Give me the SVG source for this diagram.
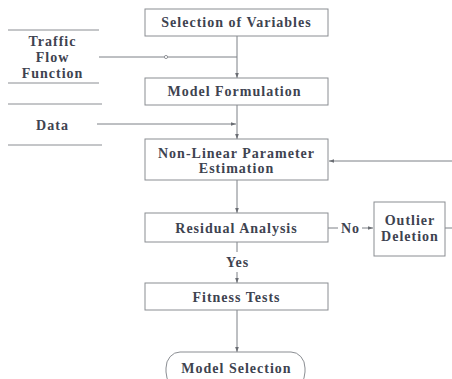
<svg xmlns="http://www.w3.org/2000/svg" width="452" height="379" viewBox="0 0 452 379">
<style>
  .box { fill: #ffffff; stroke: #8a8d92; stroke-width: 1; }
  .ln { fill: none; stroke: #7d8086; stroke-width: 1; }
  .sep { fill: none; stroke: #8a8d92; stroke-width: 1; }
  text { font-family: "Liberation Serif", "DejaVu Serif", serif; font-weight: bold; font-size: 14px; fill: #3e4350; text-anchor: middle; dominant-baseline: central; letter-spacing: 1px; }
</style>
<defs>
  <marker id="arr" viewBox="0 0 6 6" refX="6" refY="3" markerWidth="5" markerHeight="5" orient="auto" markerUnits="userSpaceOnUse">
    <path d="M0,0.8 L6,3 L0,5.2 Z" fill="#6a6d73"/>
  </marker>
</defs>
<rect width="452" height="379" fill="#ffffff"/>

<g id="connectors">
  <line class="ln" x1="237" y1="36" x2="237" y2="78" marker-end="url(#arr)"/>
  <line class="ln" x1="99" y1="57" x2="237" y2="57"/>
  <circle cx="166" cy="57" r="1.6" fill="#ffffff" stroke="#7d8086" stroke-width="0.8"/>
  <line class="ln" x1="237" y1="105" x2="237" y2="139" marker-end="url(#arr)"/>
  <line class="ln" x1="97" y1="124" x2="236" y2="124" marker-end="url(#arr)"/>
  <line class="ln" x1="452" y1="161" x2="329" y2="161" marker-end="url(#arr)"/>
  <line class="ln" x1="237" y1="180" x2="237" y2="213" marker-end="url(#arr)"/>
  <line class="ln" x1="328" y1="228" x2="338" y2="228"/>
  <line class="ln" x1="362" y1="228" x2="373" y2="228" marker-end="url(#arr)"/>
  <line class="ln" x1="445" y1="228" x2="452" y2="228"/>
  <line class="ln" x1="237" y1="242" x2="237" y2="252"/>
  <line class="ln" x1="237" y1="272" x2="237" y2="283" marker-end="url(#arr)"/>
  <line class="ln" x1="237" y1="310" x2="237" y2="352" marker-end="url(#arr)"/>
  <text x="350.5" y="228">No</text>
  <text x="237.5" y="262">Yes</text>
</g>

<g id="traffic-flow-function">
  <line class="sep" x1="8" y1="30" x2="99" y2="30"/>
  <line class="sep" x1="8" y1="83" x2="99" y2="83"/>
  <text x="52.5" y="41">Traffic</text>
  <text x="52.5" y="57">Flow</text>
  <text x="52.5" y="73">Function</text>
</g>

<g id="data">
  <line class="sep" x1="8" y1="104" x2="102" y2="104"/>
  <line class="sep" x1="8" y1="145" x2="102" y2="145"/>
  <text x="52.5" y="125">Data</text>
</g>

<g id="selection-of-variables">
  <rect class="box" x="145" y="9" width="183" height="27"/>
  <text x="236.5" y="22.5">Selection of Variables</text>
</g>

<g id="model-formulation">
  <rect class="box" x="145" y="78" width="183" height="27"/>
  <text x="234.5" y="91.5">Model Formulation</text>
</g>

<g id="non-linear-parameter-estimation">
  <rect class="box" x="145" y="139" width="183" height="41"/>
  <text x="236.5" y="153">Non-Linear Parameter</text>
  <text x="236.5" y="168">Estimation</text>
</g>

<g id="residual-analysis">
  <rect class="box" x="145" y="213" width="183" height="29"/>
  <text x="236.5" y="228">Residual Analysis</text>
</g>

<g id="outlier-deletion">
  <rect class="box" x="374" y="202" width="71" height="54"/>
  <text x="410" y="220">Outlier</text>
  <text x="410" y="236">Deletion</text>
</g>

<g id="fitness-tests">
  <rect class="box" x="145" y="283" width="183" height="27"/>
  <text x="236.5" y="297">Fitness Tests</text>
</g>

<g id="model-selection">
  <rect class="box" x="166" y="352" width="139" height="36" rx="14" ry="16"/>
  <text x="236.5" y="368">Model Selection</text>
</g>
</svg>
